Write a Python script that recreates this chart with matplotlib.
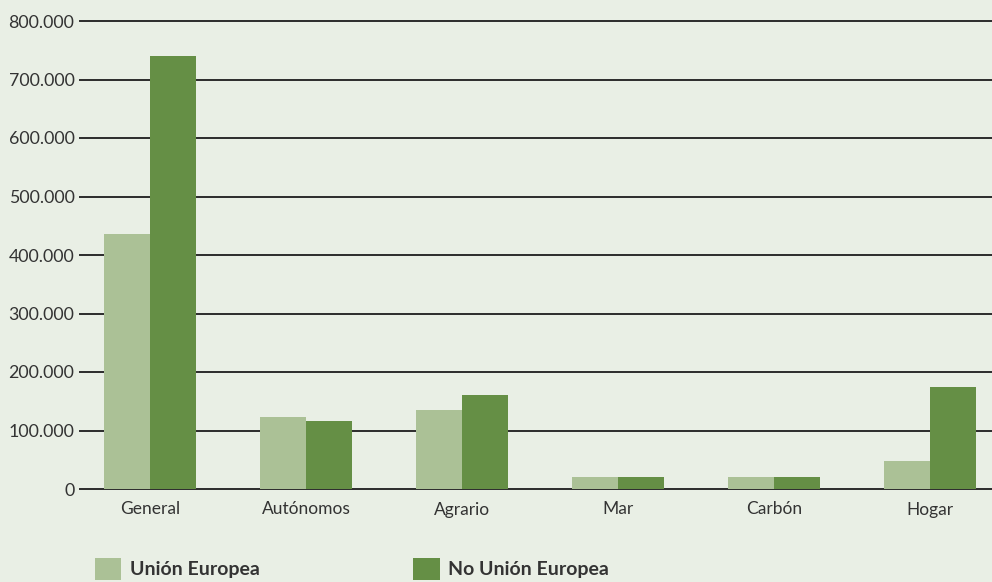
import numpy as np
import matplotlib
matplotlib.use('Agg')
import matplotlib.pyplot as plt

# Datos
regimenes = ['General', 'Autónomos', 'Agrario', 'Mar', 'Carbón', 'Hogar']
union_europea = [436000, 123000, 135000, 21000, 21000, 48000]
no_union_europea = [741000, 116000, 160000, 21000, 21000, 175000]
y_ticks = [0, 100000, 200000, 300000, 400000, 500000, 600000, 700000, 800000]

color_fondo = '#e9efe5'
color_ue = '#abc196'
color_no_ue = '#658f45'
color_texto = '#333333'

plt.rcParams['font.family'] = ['Lato', 'DejaVu Sans']

W, H = 992, 582
fig = plt.figure(figsize=(W / 100, H / 100), dpi=100)
fig.patch.set_facecolor(color_fondo)

# eje: de x=80 a 992 px, y de 21 a 489 px
ax = fig.add_axes([80 / W, (H - 489) / H, (W - 80) / W, (489 - 21) / H])
ax.set_facecolor(color_fondo)

x = np.arange(len(regimenes))
ancho = 0.295
b1 = ax.bar(x - ancho / 2, union_europea, ancho, color=color_ue, zorder=2,
            label='Unión Europea')
b2 = ax.bar(x + ancho / 2, no_union_europea, ancho, color=color_no_ue, zorder=2,
            label='No Unión Europea')

ax.set_ylim(0, 800000)
ax.set_xlim(-(150 - 80) / 156, (992 - 150) / 156)

# líneas de referencia
for t in y_ticks:
    ax.axhline(t, color='#2b2b2b', linewidth=1.4, zorder=1, clip_on=False)

ax.set_yticks(y_ticks)
ax.set_yticklabels([f'{v:,}'.replace(',', '.') for v in y_ticks])
ax.set_xticks(x)
ax.set_xticklabels(regimenes)
ax.tick_params(axis='y', length=0, pad=4, labelsize=12.8, labelcolor=color_texto)
ax.tick_params(axis='x', length=0, pad=9, labelsize=12.5, labelcolor=color_texto)

for s in ax.spines.values():
    s.set_visible(False)

# leyenda pegada al borde inferior (queda recortada como en el original)
leg = fig.legend(handles=[b1, b2], loc='upper left',
                 bbox_to_anchor=(95 / W, (H - 558) / H), ncol=2, frameon=False,
                 handlelength=1.34, handleheight=1.35, handletextpad=0.46,
                 columnspacing=7.9, borderaxespad=0, borderpad=0,
                 prop={'size': 14, 'weight': 'bold'})
for t in leg.get_texts():
    t.set_color(color_texto)

plt.savefig('out.png', dpi=100, facecolor=color_fondo)
